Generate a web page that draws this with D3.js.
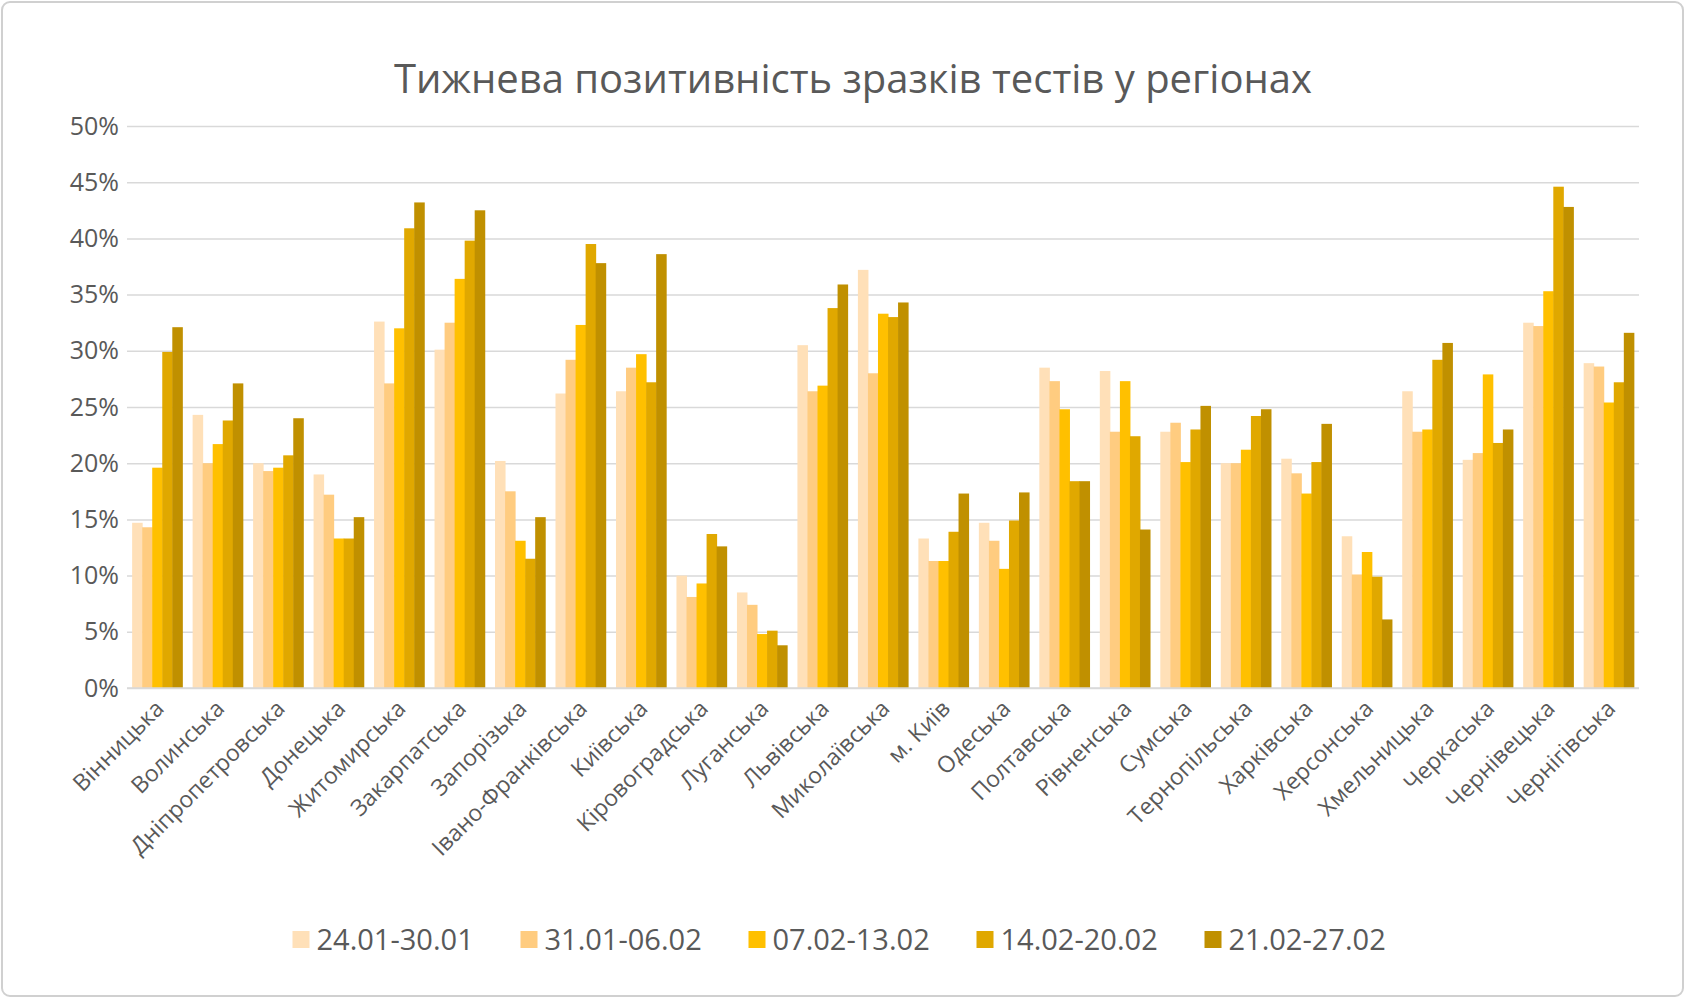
<!DOCTYPE html>
<html lang="uk">
<head>
<meta charset="UTF-8">
<script src="https://d3js.org/d3.v7.min.js"></script>
<style>
  body { margin: 0; background: #fff; }
  svg { display: block; }
</style>
</head>
<body>
<svg id="chart" width="1685" height="998"></svg>
<script>
// Data
const regions = ["Вінницька","Волинська","Дніпропетровська","Донецька","Житомирська","Закарпатська","Запорізька","Івано-Франківська","Київська","Кіровоградська","Луганська","Львівська","Миколаївська","м. Київ","Одеська","Полтавська","Рівненська","Сумська","Тернопільська","Харківська","Херсонська","Хмельницька","Черкаська","Чернівецька","Чернігівська"];
const weeks = ["24.01-30.01","31.01-06.02","07.02-13.02","14.02-20.02","21.02-27.02"];
const w1 = [14.7,24.3,20.0,19.0,32.6,30.1,20.2,26.2,26.4,10.0,8.5,30.5,37.2,13.3,14.7,28.5,28.2,22.8,20.0,20.4,13.5,26.4,20.3,32.5,28.9];
const w2 = [14.3,20.0,19.3,17.2,27.1,32.5,17.5,29.2,28.5,8.1,7.4,26.4,28.0,11.3,13.1,27.3,22.8,23.6,20.0,19.1,10.1,22.8,20.9,32.2,28.6];
const w3 = [19.6,21.7,19.6,13.3,32.0,36.4,13.1,32.3,29.7,9.3,4.8,26.9,33.3,11.3,10.6,24.8,27.3,20.1,21.2,17.3,12.1,23.0,27.9,35.3,25.4];
const w4 = [29.9,23.8,20.7,13.3,40.9,39.8,11.5,39.5,27.2,13.7,5.1,33.8,33.0,13.9,14.9,18.4,22.4,23.0,24.2,20.1,9.9,29.2,21.8,44.6,27.2];
const w5 = [32.1,27.1,24.0,15.2,43.2,42.5,15.2,37.8,38.6,12.6,3.8,35.9,34.3,17.3,17.4,18.4,14.1,25.1,24.8,23.5,6.1,30.7,23.0,42.8,31.6];
const series = [w1, w2, w3, w4, w5];
const colors = ["#FFE0B8","#FFCC80","#FFC000","#E0A800","#C09000"];
const yTicks = [0,5,10,15,20,25,30,35,40,45,50];

const svg = d3.select("#chart");
const font = "'Open Sans', 'Noto Sans', sans-serif";
const textColor = "#595959";

svg.append("rect").attr("x", 2).attr("y", 2).attr("width", 1681).attr("height", 994)
  .attr("rx", 8).attr("fill", "#fff").attr("stroke", "#d0d0d0").attr("stroke-width", 2);

const plotLeft = 127, plotRight = 1639, plotTop = 126, plotBottom = 688;

const x = d3.scaleBand().domain(regions).range([plotLeft, plotRight]).paddingInner(0.17).paddingOuter(0.085);
const xs = d3.scaleBand().domain(d3.range(5)).range([0, x.bandwidth()]);
const y = d3.scaleLinear().domain([0, 50]).range([plotBottom, plotTop]);

// Title
svg.append("text").attr("x", (plotLeft + plotRight) / 2 - 30).attr("y", 93)
  .attr("text-anchor", "middle").attr("font-family", font).attr("font-size", 40)
  .attr("fill", textColor).text("Тижнева позитивність зразків тестів у регіонах");

// Grid + y axis
const yAxis = svg.append("g").attr("transform", `translate(${plotLeft},0)`)
  .call(d3.axisLeft(y).tickValues(yTicks).tickSize(-(plotRight - plotLeft)).tickFormat(d => d + "%"));
yAxis.select(".domain").remove();
yAxis.selectAll(".tick line").attr("stroke", "#d9d9d9").attr("stroke-width", 1.5);
yAxis.selectAll(".tick text").attr("x", -8).attr("font-family", font).attr("font-size", 25).attr("fill", textColor);

// Bars
series.forEach((vals, i) => {
  svg.append("g").selectAll("rect").data(regions).join("rect")
    .attr("x", d => x(d) + xs(i))
    .attr("y", (d, j) => y(vals[j]))
    .attr("width", xs.bandwidth() + 0.5)
    .attr("height", (d, j) => y(0) - y(vals[j]))
    .attr("fill", colors[i]);
});

// baseline
svg.append("line").attr("x1", plotLeft).attr("x2", plotRight).attr("y1", plotBottom).attr("y2", plotBottom)
  .attr("stroke", "#d9d9d9").attr("stroke-width", 1.5);

// x axis labels
const xAxis = svg.append("g").attr("transform", `translate(0,${plotBottom})`)
  .call(d3.axisBottom(x).tickSize(0).tickFormat(d => d));
xAxis.select(".domain").remove();
xAxis.selectAll(".tick text")
  .attr("font-family", font).attr("font-size", 23).attr("fill", textColor)
  .attr("text-anchor", "end").attr("dy", 0).attr("y", 0)
  .attr("transform", "translate(8,22) rotate(-45)");

// Legend
const legendItemW = 228;
const legendX0 = (1685 - legendItemW * 5) / 2 + 20;
const legend = svg.append("g").attr("transform", `translate(${legendX0},940)`);
weeks.forEach((w, i) => {
  const g = legend.append("g").attr("transform", `translate(${i * legendItemW},0)`);
  g.append("rect").attr("x", 0).attr("y", -9).attr("width", 17).attr("height", 17).attr("fill", colors[i]);
  g.append("text").attr("x", 24).attr("y", 0).attr("dy", "0.35em")
    .attr("font-family", "'Liberation Sans Narrow', 'Open Sans', sans-serif").attr("font-size", 29)
    .attr("fill", textColor).text(w);
});
</script>
</body>
</html>
